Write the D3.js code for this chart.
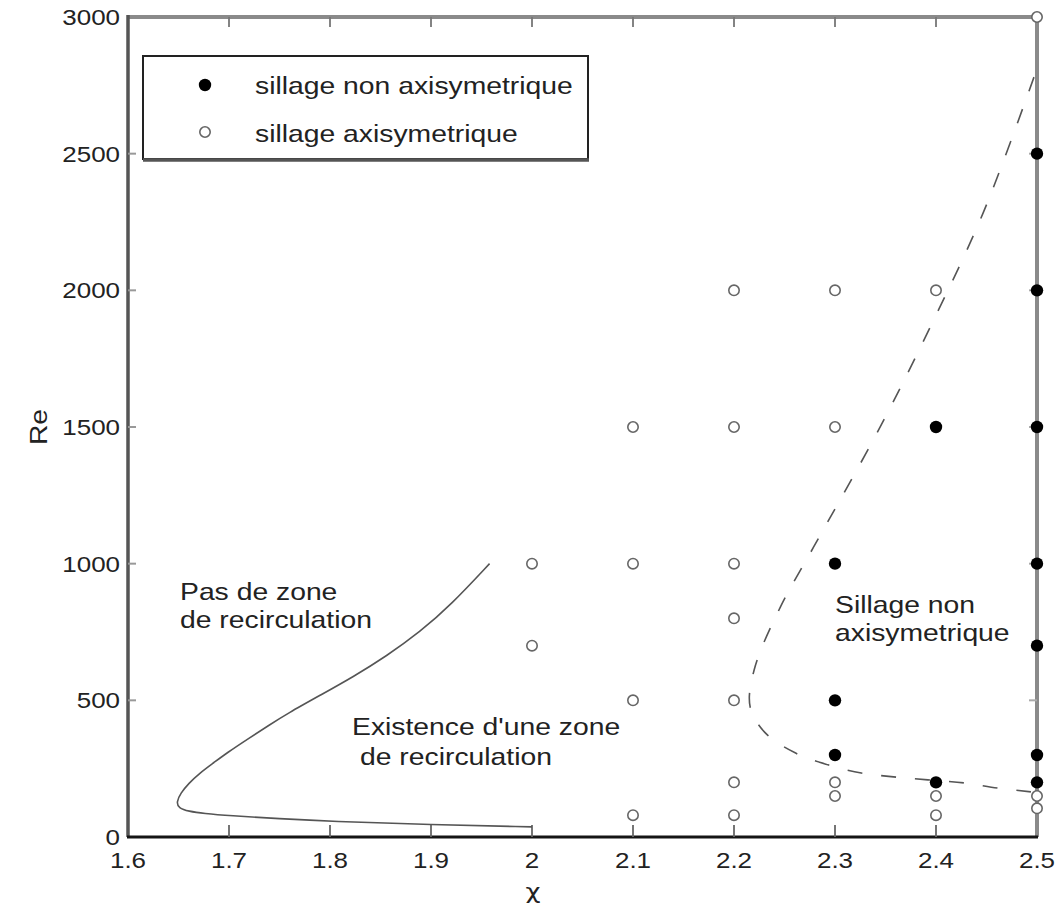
<!DOCTYPE html>
<html><head><meta charset="utf-8">
<script src="https://cdn.jsdelivr.net/npm/d3@7"></script>
<style>body{margin:0;background:#fff}svg{display:block}text{font-family:"Liberation Sans",Arial,sans-serif;fill:#222}</style>
</head><body>
<svg id="c" width="1060" height="912"></svg>
<script>
const xTicks = [1.6,1.7,1.8,1.9,2,2.1,2.2,2.3,2.4,2.5];
const xTickLabels = ["1.6","1.7","1.8","1.9","2","2.1","2.2","2.3","2.4","2.5"];
const yTicks = [0,500,1000,1500,2000,2500,3000];
const yTickLabels = ["0","500","1000","1500","2000","2500","3000"];

// sillage axisymetrique (open circles)
const axiChi = [2.0,2.0, 2.1,2.1,2.1,2.1, 2.2,2.2,2.2,2.2,2.2,2.2,2.2, 2.3,2.3,2.3,2.3, 2.4,2.4,2.4, 2.5,2.5,2.5];
const axiRe  = [1000,700, 1500,1000,500,80, 2000,1500,1000,800,500,200,80, 2000,1500,200,150, 2000,150,80, 3000,150,105];
// sillage non axisymetrique (filled circles)
const nonChi = [2.3,2.3,2.3, 2.4,2.4, 2.5,2.5,2.5,2.5,2.5,2.5,2.5];
const nonRe  = [1000,500,300, 1500,200, 2500,2000,1500,1000,700,300,200];

// recirculation boundary (solid)
const recChi = [1.958,1.958,1.92,1.889,1.856,1.823,1.79,1.758,1.74,1.72,1.698,1.685,1.671,1.660,1.652,1.648,1.650,1.66,1.675,1.70,1.75,1.80,1.90,2.00,2.00];
const recRe  = [1000,1000,850,750,662,586,518,452,410,362,308,272,234,196,160,128,106,94,86,78,67,57,45,37,37];
// axisymmetry boundary (dashed)
const wakeChi = [2.497,2.447,2.398,2.345,2.279,2.246,2.220,2.216,2.231,2.261,2.293,2.326,2.358,2.392,2.428,2.461,2.494];
const wakeRe  = [2780,2286,1894,1502,1062,842,612,476,381,307,264,234,220,209,198,179,165];

const legendLabels = ["sillage non axisymetrique","sillage axisymetrique"];

const svg = d3.select("#c");
const L=128, R=1037, T=17, B=837;
const x = d3.scaleLinear().domain([1.6,2.5]).range([L,R]);
const y = d3.scaleLinear().domain([0,3000]).range([B,T]);
const SX = 1.18;

function stext(px,py,str,size,anchor,rot,family){
  const g = svg.append("g").attr("transform",`translate(${px},${py})`+(rot?` rotate(${rot})`:"")+` scale(${SX},1)`);
  const t = g.append("text").attr("font-size",size).attr("text-anchor",anchor||"start").text(str);
  if(family) t.style("font-family",family);
  return g;
}

// frame
svg.append("line").attr("x1",L).attr("x2",R).attr("y1",T).attr("y2",T).attr("stroke","#8a8a8a").attr("stroke-width",4);
svg.append("line").attr("x1",R).attr("x2",R).attr("y1",T).attr("y2",B).attr("stroke","#8a8a8a").attr("stroke-width",4);
svg.append("line").attr("x1",L).attr("x2",L).attr("y1",T-2).attr("y2",B).attr("stroke","#555").attr("stroke-width",3.5);
svg.append("line").attr("x1",L-1).attr("x2",R+1).attr("y1",B).attr("y2",B).attr("stroke","#151515").attr("stroke-width",3);

// ticks
xTicks.forEach((t,i)=>{
  if(i>0 && i<xTicks.length-1){
    svg.append("line").attr("x1",x(t)).attr("x2",x(t)).attr("y1",B).attr("y2",B-12).attr("stroke","#666").attr("stroke-width",1.8);
    svg.append("line").attr("x1",x(t)).attr("x2",x(t)).attr("y1",T).attr("y2",T+10).attr("stroke","#777").attr("stroke-width",1.8);
  }
  stext(x(t), 868, xTickLabels[i], 22, "middle");
});
yTicks.forEach((t,i)=>{
  if(i>0 && i<yTicks.length-1){
    svg.append("line").attr("x1",L).attr("x2",L+8).attr("y1",y(t)).attr("y2",y(t)).attr("stroke","#999").attr("stroke-width",2);
    svg.append("line").attr("x1",R).attr("x2",R-8).attr("y1",y(t)).attr("y2",y(t)).attr("stroke","#aaa").attr("stroke-width",2);
  }
  stext(120, y(t)+8, yTickLabels[i], 22, "end");
});

// axis titles
stext(47, 427, "Re", 24, "middle", -90);
stext(533, 899, "χ", 22, "middle", 0, "DejaVu Sans");

// curves
const smooth = d3.line().x(d=>x(d[0])).y(d=>y(d[1])).curve(d3.curveBasis);
const line = d3.line().x(d=>x(d[0])).y(d=>y(d[1])).curve(d3.curveCatmullRom.alpha(0.5));
svg.append("path").attr("d", smooth(recChi.map((c,i)=>[c,recRe[i]]))).attr("fill","none").attr("stroke","#555").attr("stroke-width",1.6);
svg.append("path").attr("d", line(wakeChi.map((c,i)=>[c,wakeRe[i]]))).attr("fill","none").attr("stroke","#555").attr("stroke-width",1.6).attr("stroke-dasharray","15,19");

// points
svg.append("g").selectAll("circle").data(axiChi.map((c,i)=>[c,axiRe[i]])).join("circle")
  .attr("cx",d=>x(d[0])).attr("cy",d=>y(d[1])).attr("r",5.2).attr("fill","#fff").attr("stroke","#666").attr("stroke-width",1.6);
svg.append("g").selectAll("circle").data(nonChi.map((c,i)=>[c,nonRe[i]])).join("circle")
  .attr("cx",d=>x(d[0])).attr("cy",d=>y(d[1])).attr("r",6.2).attr("fill","#000");

// annotations
stext(180, 600, "Pas de zone", 24);
stext(180, 628, "de recirculation", 24);
stext(352, 735, "Existence d'une zone", 24);
stext(360, 765, "de recirculation", 24);
stext(835, 613, "Sillage non", 24);
stext(835, 641, "axisymetrique", 24);

// legend
svg.append("rect").attr("x",143).attr("y",56).attr("width",445).attr("height",103).attr("fill","#fff").attr("stroke","#222").attr("stroke-width",2);
svg.append("line").attr("x1",143).attr("x2",589).attr("y1",160).attr("y2",160).attr("stroke","#555").attr("stroke-width",3.5);
svg.append("circle").attr("cx",205).attr("cy",85).attr("r",6.2).attr("fill","#000");
svg.append("circle").attr("cx",205).attr("cy",132).attr("r",5.2).attr("fill","#fff").attr("stroke","#666").attr("stroke-width",1.6);
stext(255, 94, legendLabels[0], 24);
stext(255, 142, legendLabels[1], 24);
</script>
</body></html>
